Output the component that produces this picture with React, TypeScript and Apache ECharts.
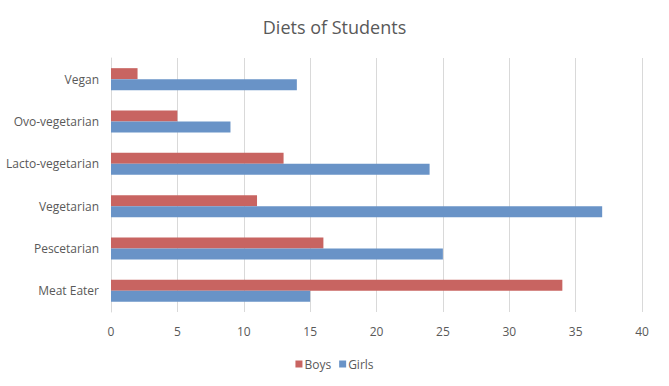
import React, { useEffect, useRef } from "react";
import * as echarts from "echarts";

const categories = ["Meat Eater", "Pescetarian", "Vegetarian", "Lacto-vegetarian", "Ovo-vegetarian", "Vegan"];
const boys = [34, 16, 11, 13, 5, 2];
const girls = [15, 25, 37, 24, 9, 14];

const FONT = "Open Sans";
const TEXT = "#595959";

export default function App() {
  const ref = useRef<HTMLDivElement>(null);
  useEffect(() => {
    if (!ref.current) return;
    const chart = echarts.init(ref.current, undefined, { renderer: "svg" });
    chart.setOption({
      animation: false,
      backgroundColor: "#ffffff",
      title: {
        text: "Diets of Students",
        left: "center",
        top: 13,
        textStyle: { fontFamily: FONT, fontSize: 18, fontWeight: "normal", color: TEXT },
      },
      legend: {
        data: ["Boys", "Girls"],
        bottom: 11,
        left: "center",
        itemWidth: 7,
        itemHeight: 7,
        itemGap: 8,
        icon: "rect",
        textStyle: { fontFamily: FONT, fontSize: 12, color: TEXT, padding: [0, 0, 0, -3] },
      },
      grid: { left: 111, right: 27, top: 58, bottom: 74, containLabel: false },
      xAxis: {
        type: "value",
        min: 0,
        max: 40,
        interval: 5,
        axisLine: { show: false },
        axisTick: { show: false },
        axisLabel: { color: TEXT, fontFamily: FONT, fontSize: 12, margin: 13 },
        splitLine: { lineStyle: { color: "#d9d9d9", width: 1 } },
      },
      yAxis: {
        type: "category",
        data: categories,
        axisLine: { show: true, lineStyle: { color: "#d9d9d9" } },
        axisTick: { show: false },
        axisLabel: { color: TEXT, fontFamily: FONT, fontSize: 12, margin: 12 },
      },
      series: [
        { name: "Boys", type: "bar", data: boys, barWidth: 11, barGap: "0%", itemStyle: { color: "#C86461" } },
        { name: "Girls", type: "bar", data: girls, barWidth: 11, barGap: "0%", itemStyle: { color: "#6993C7" } },
      ],
    });
    return () => chart.dispose();
  }, []);
  return <div ref={ref} style={{ width: 669, height: 386, position: "absolute", left: 0, top: 0 }} />;
}
